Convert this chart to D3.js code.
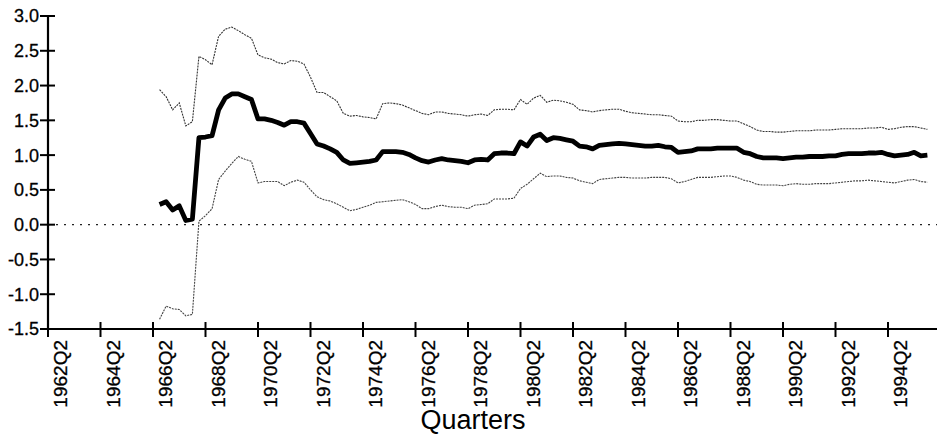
<!DOCTYPE html>
<html>
<head>
<meta charset="utf-8">
<script src="https://cdn.jsdelivr.net/npm/d3@7/dist/d3.min.js"></script>
<style>
  html, body { margin: 0; padding: 0; background: #fff; }
  svg { display: block; font-family: "Liberation Sans", Arial, sans-serif; }
</style>
</head>
<body>
<svg id="chart" width="937" height="435"></svg>
<script>
// ---- data ----
const firstQuarter = "1962Q2";
const lastQuarter = "1995Q4";
const seriesStart = "1966Q3";
const tickLabels = ["1962Q2","1964Q2","1966Q2","1968Q2","1970Q2","1972Q2","1974Q2","1976Q2",
  "1978Q2","1980Q2","1982Q2","1984Q2","1986Q2","1988Q2","1990Q2","1992Q2","1994Q2"];
const yTicks = [3.0, 2.5, 2.0, 1.5, 1.0, 0.5, 0.0, -0.5, -1.0, -1.5];
const xTitle = "Quarters";

const estimate = [
  0.29,0.33,0.21,0.27,0.06,0.08,1.25,1.26,1.28,1.65,1.82,1.88,1.88,1.84,1.80,1.52,
  1.52,1.50,1.47,1.43,1.48,1.48,1.46,1.31,1.16,1.13,1.09,1.04,0.93,0.88,0.89,0.90,
  0.91,0.93,1.05,1.05,1.05,1.04,1.01,0.96,0.92,0.90,0.93,0.95,0.93,0.92,0.91,0.89,
  0.93,0.94,0.93,1.02,1.03,1.03,1.02,1.19,1.13,1.26,1.30,1.21,1.25,1.24,1.22,1.20,
  1.13,1.12,1.09,1.14,1.15,1.16,1.17,1.16,1.15,1.14,1.13,1.13,1.14,1.12,1.11,1.04,
  1.05,1.06,1.09,1.09,1.09,1.10,1.10,1.10,1.10,1.04,1.02,0.98,0.96,0.96,0.96,0.95,
  0.96,0.97,0.97,0.98,0.98,0.98,0.99,0.99,1.01,1.02,1.02,1.02,1.03,1.03,1.04,1.01,
  0.99,1.00,1.01,1.04,0.99,1.00
];
const upperBand = [
  1.94,1.84,1.65,1.75,1.42,1.48,2.42,2.37,2.30,2.71,2.81,2.84,2.79,2.73,2.68,2.44,
  2.40,2.38,2.33,2.31,2.36,2.35,2.31,2.12,1.90,1.90,1.84,1.78,1.60,1.56,1.57,1.55,
  1.54,1.52,1.74,1.75,1.74,1.72,1.68,1.64,1.60,1.58,1.62,1.62,1.60,1.59,1.58,1.56,
  1.58,1.59,1.57,1.65,1.66,1.66,1.65,1.80,1.73,1.82,1.86,1.76,1.79,1.78,1.76,1.73,
  1.65,1.64,1.62,1.64,1.65,1.66,1.66,1.63,1.61,1.60,1.59,1.58,1.58,1.57,1.56,1.49,
  1.48,1.48,1.50,1.50,1.51,1.51,1.50,1.49,1.49,1.45,1.41,1.36,1.34,1.34,1.33,1.33,
  1.34,1.35,1.35,1.35,1.36,1.36,1.36,1.37,1.38,1.38,1.38,1.38,1.39,1.39,1.40,1.37,
  1.38,1.40,1.41,1.41,1.39,1.37
];
const lowerBand = [
  -1.36,-1.17,-1.21,-1.22,-1.31,-1.29,0.05,0.13,0.23,0.65,0.77,0.88,0.98,0.94,0.91,0.60,
  0.62,0.62,0.62,0.56,0.61,0.64,0.61,0.50,0.40,0.36,0.34,0.30,0.25,0.20,0.22,0.25,
  0.28,0.32,0.33,0.34,0.35,0.36,0.33,0.29,0.23,0.23,0.26,0.28,0.26,0.25,0.25,0.23,
  0.28,0.29,0.30,0.37,0.37,0.37,0.38,0.52,0.58,0.66,0.74,0.69,0.70,0.70,0.68,0.67,
  0.63,0.61,0.59,0.65,0.66,0.67,0.68,0.68,0.67,0.67,0.67,0.68,0.68,0.68,0.66,0.60,
  0.62,0.65,0.68,0.68,0.68,0.69,0.70,0.70,0.68,0.64,0.62,0.58,0.57,0.57,0.57,0.56,
  0.58,0.59,0.58,0.58,0.59,0.59,0.59,0.60,0.61,0.62,0.63,0.63,0.64,0.63,0.62,0.61,
  0.60,0.62,0.64,0.65,0.62,0.61
];

// ---- quarter categories ----
function parseQ(s) { return { y: +s.slice(0, 4), q: +s.slice(5) }; }
function quarterList(from, to) {
  const a = parseQ(from), b = parseQ(to), out = [];
  let yr = a.y, q = a.q;
  while (yr < b.y || (yr === b.y && q <= b.q)) {
    out.push(yr + "Q" + q);
    q++; if (q > 4) { q = 1; yr++; }
  }
  return out;
}
const quarters = quarterList(firstQuarter, lastQuarter);
const seriesQuarters = quarterList(seriesStart, lastQuarter);

// ---- layout ----
const svg = d3.select("#chart");
const M = { left: 48, right: 937, top: 16, bottom: 329 };

const x = d3.scalePoint().domain(quarters).range([M.left, M.left + (quarters.length - 1) * 6.5625]);
const y = d3.scaleLinear().domain([-1.5, 3.0]).range([M.bottom, M.top]);

// zero reference line
svg.append("line")
  .attr("x1", M.left).attr("x2", M.right)
  .attr("y1", y(0)).attr("y2", y(0))
  .attr("stroke", "#222").attr("stroke-width", 1.2)
  .attr("stroke-dasharray", "2,6");

// series lines
const line = d3.line()
  .x((d, i) => x(seriesQuarters[i]))
  .y(d => y(d));

svg.append("path").datum(upperBand)
  .attr("d", line).attr("fill", "none")
  .attr("stroke", "#333").attr("stroke-width", 1.1)
  .attr("stroke-dasharray", "2,1");
svg.append("path").datum(lowerBand)
  .attr("d", line).attr("fill", "none")
  .attr("stroke", "#444").attr("stroke-width", 1.1)
  .attr("stroke-dasharray", "2,1");
svg.append("path").datum(estimate)
  .attr("d", line).attr("fill", "none")
  .attr("stroke", "#000").attr("stroke-width", 4.8)
  .attr("stroke-linejoin", "round");

// y axis
const yAxis = svg.append("g");
yAxis.append("line")
  .attr("x1", M.left).attr("x2", M.left)
  .attr("y1", M.top).attr("y2", M.bottom)
  .attr("stroke", "#000").attr("stroke-width", 2.2);
yAxis.selectAll("line.tick").data(yTicks).enter().append("line")
  .attr("class", "tick")
  .attr("x1", M.left - 8).attr("x2", M.left + 7)
  .attr("y1", d => y(d)).attr("y2", d => y(d))
  .attr("stroke", "#000").attr("stroke-width", 2);
yAxis.selectAll("text").data(yTicks).enter().append("text")
  .attr("x", M.left - 9).attr("y", d => y(d)).attr("dy", "0.36em")
  .attr("text-anchor", "end")
  .attr("font-size", 18).attr("fill", "#000")
  .attr("stroke", "#000").attr("stroke-width", 0.3)
  .text(d => d3.format(".1f")(d).replace("−", "-"));

// x axis
const xAxis = svg.append("g");
xAxis.append("line")
  .attr("x1", M.left).attr("x2", M.right)
  .attr("y1", M.bottom).attr("y2", M.bottom)
  .attr("stroke", "#000").attr("stroke-width", 2.2);
xAxis.selectAll("line.tick").data(tickLabels).enter().append("line")
  .attr("class", "tick")
  .attr("x1", d => x(d)).attr("x2", d => x(d))
  .attr("y1", M.bottom - 7).attr("y2", M.bottom + 8)
  .attr("stroke", "#000").attr("stroke-width", 2);
xAxis.selectAll("text").data(tickLabels).enter().append("text")
  .attr("transform", d => `translate(${x(d) + 19},${M.bottom + 11}) rotate(-90)`)
  .attr("text-anchor", "end")
  .attr("font-size", 19).attr("fill", "#000")
  .attr("stroke", "#000").attr("stroke-width", 0.3)
  .text(d => d);

// axis title
svg.append("text")
  .attr("x", 473).attr("y", 429)
  .attr("text-anchor", "middle")
  .attr("font-size", 27).attr("fill", "#000")
  .text(xTitle);
</script>
</body>
</html>
